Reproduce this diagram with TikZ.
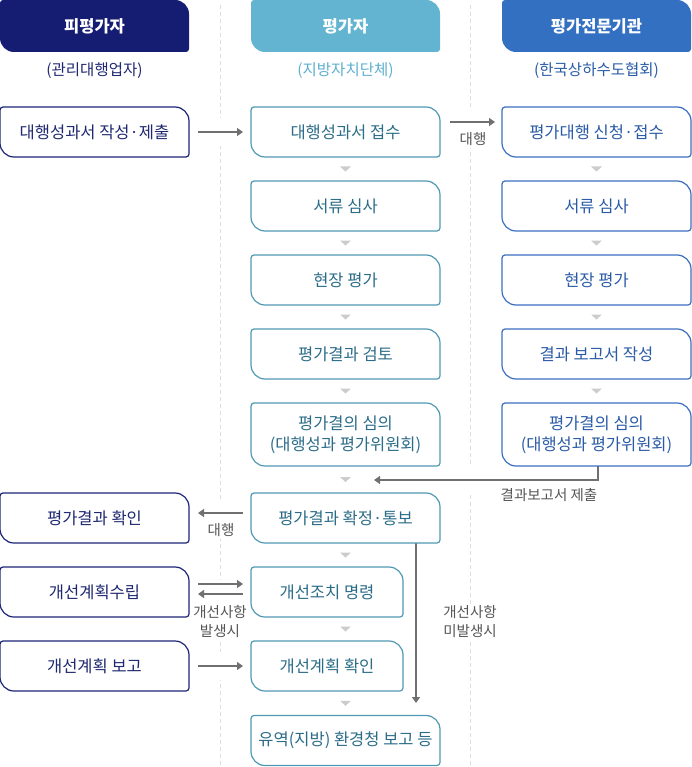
\documentclass[tikz,border=0pt]{standalone}
\usepackage{fontspec}
\setmainfont{Noto Sans CJK KR}
\usetikzlibrary{arrows.meta,calc,backgrounds}
\definecolor{navyfill}{HTML}{151D72}
\definecolor{skyfill}{HTML}{62B4D1}
\definecolor{bluefill}{HTML}{3470C2}
\definecolor{navyline}{HTML}{1C2478}
\definecolor{skyline}{HTML}{4F98B3}
\definecolor{blueline}{HTML}{3B6EC0}
\definecolor{navytext}{HTML}{1F2870}
\definecolor{skytext}{HTML}{2B6C88}
\definecolor{bluetext}{HTML}{2A5BA6}
\definecolor{skysub}{HTML}{5DAFCF}
\definecolor{arrowgray}{HTML}{707070}
\definecolor{labelgray}{HTML}{555555}
\definecolor{trigray}{HTML}{CCCCCC}
\definecolor{sepgray}{HTML}{DDDDDD}
\begin{document}
\begin{tikzpicture}[x=1pt,y=-1pt,
	head/.style={minimum width=189pt,minimum height=52pt,inner sep=0pt,outer sep=0pt,text=white,font=\fontsize{16.5}{19}\selectfont\bfseries},
	sub/.style={inner sep=0pt,font=\fontsize{15.5}{18}\selectfont},
	stagebox/.style={minimum width=189pt,minimum height=50pt,inner sep=0pt,outer sep=0pt,align=center,font=\fontsize{16.5}{21}\selectfont},
	lbox/.style={stagebox,text=navytext},
	mbox/.style={stagebox,text=skytext},
	rbox/.style={stagebox,text=bluetext},
	lbl/.style={fill=white,inner sep=2pt,align=center,text=labelgray,font=\fontsize{14.5}{19}\selectfont},
	flowbare/.style={draw=arrowgray,line width=1.3pt,-{Triangle[length=6pt,width=8pt]}},
	flow/.style={flowbare,preaction={draw=white,line width=28pt,-}},
	tri/.style={fill=trigray},
	sep/.style={draw=sepgray,line width=1pt,dash pattern=on 4pt off 3pt}]
	\useasboundingbox (0,0) rectangle (692,767);
	
	\node[head] (hl) at (94.5,26) {피평가자};
	\node[head] (hm) at (345.5,26) {평가자};
	\node[head] (hr) at (596.5,26) {평가전문기관};
	\node[sub,text=navytext] (sl) at (94.5,71) {(관리대행업자)};
	\node[sub,text=skysub] (sm) at (345.5,71) {(지방자치단체)};
	\node[sub,text=bluetext] (sr) at (596.5,71) {(한국상하수도협회)};
	
	\node[lbox] (l1) at (94.5,132) {대행성과서 작성·제출};
	\node[lbox] (l6) at (94.5,518) {평가결과 확인};
	\node[lbox] (l7) at (94.5,592) {개선계획수립};
	\node[lbox] (l8) at (94.5,666) {개선계획 보고};
	
	\node[mbox] (m1) at (345.5,132) {대행성과서 접수};
	\node[mbox] (m2) at (345.5,206) {서류 심사};
	\node[mbox] (m3) at (345.5,280) {현장 평가};
	\node[mbox] (m4) at (345.5,354) {평가결과 검토};
	\node[mbox,minimum height=63pt] (m5) at (345.5,434.5) {평가결의 심의\\(대행성과 평가위원회)};
	\node[mbox] (m6) at (345.5,518) {평가결과 확정·통보};
	\node[mbox,minimum width=152pt] (m7) at (327,592) {개선조치 명령};
	\node[mbox,minimum width=152pt] (m8) at (327,666) {개선계획 확인};
	\node[mbox] (m9) at (345.5,740.5) {유역(지방) 환경청 보고 등};
	
	\node[rbox] (r1) at (596.5,132) {평가대행 신청·접수};
	\node[rbox] (r2) at (596.5,206) {서류 심사};
	\node[rbox] (r3) at (596.5,280) {현장 평가};
	\node[rbox] (r4) at (596.5,354) {결과 보고서 작성};
	\node[rbox,minimum height=63pt] (r5) at (596.5,434.5) {평가결의 심의\\(대행성과 평가위원회)};
	
	\coordinate (axm) at (345.5,0);
	\coordinate (axr) at (596.5,0);
	\coordinate (back) at (374,480);
	\coordinate (skip) at (416,703);
	
	\begin{scope}[on background layer,y=1pt]
	\foreach \n/\c in {hl/navyfill,hm/skyfill,hr/bluefill}
		\fill[\c] ([xshift=3pt]\n.north west) -- ([xshift=-14pt]\n.north east) arc[start angle=90,end angle=0,radius=14]
			-- ([yshift=3pt]\n.south east) arc[start angle=0,end angle=-90,radius=3]
			-- ([xshift=14pt]\n.south west) arc[start angle=270,end angle=180,radius=14]
			-- ([yshift=-3pt]\n.north west) arc[start angle=180,end angle=90,radius=3] -- cycle;
	\end{scope}
	
	\draw[sep] (220,5) -- (220,767);
	\draw[sep] (470,5) -- (470,767);
	
	\draw[flow,shorten <=9pt,shorten >=8pt] (l1) -- (m1);
	\draw[flow,shorten <=10pt,shorten >=7pt] ([yshift=10pt]m1.east) -- ([yshift=10pt]r1.west);
	\draw[flow] (r5.south -| 598,0) |- (back);
	\draw[flow,shorten <=8pt,shorten >=9pt] ([yshift=5pt]m6.west) -- ([yshift=5pt]l6.east);
	\draw[flow,shorten <=8pt,shorten >=9pt] ([yshift=-2pt]m7.west) -- ([yshift=-2pt]l7.east);
	\draw[flowbare,shorten <=9pt,shorten >=8pt] ([yshift=8pt]l7.east) -- ([yshift=8pt]m7.west);
	\draw[flow,shorten <=9pt,shorten >=8pt] (l8) -- (m8);
	\draw[flow] (skip |- m6.south) -- (skip);
	
	\node[lbl] (t1) at (473,139) {대행};
	\node[lbl] (t2) at (549,495) {결과보고서 제출};
	\node[lbl] (t3) at (221,530) {대행};
	\node[lbl] (t4) at (220,622) {개선사항\\발생시};
	\node[lbl] (t5) at (470,622) {개선사항\\미발생시};
	
	\begin{scope}[y=1pt]
	\foreach \n/\c in {l1/navyline,l6/navyline,l7/navyline,l8/navyline,
		m1/skyline,m2/skyline,m3/skyline,m4/skyline,m5/skyline,m6/skyline,m7/skyline,m8/skyline,m9/skyline,
		r1/blueline,r2/blueline,r3/blueline,r4/blueline,r5/blueline}
		\draw[\c,line width=1.2pt] ([xshift=3pt]\n.north west) -- ([xshift=-14pt]\n.north east) arc[start angle=90,end angle=0,radius=14]
			-- ([yshift=3pt]\n.south east) arc[start angle=0,end angle=-90,radius=3]
			-- ([xshift=14pt]\n.south west) arc[start angle=270,end angle=180,radius=14]
			-- ([yshift=-3pt]\n.north west) arc[start angle=180,end angle=90,radius=3] -- cycle;
	\end{scope}
	
	\foreach \a/\b in {m1/m2,m2/m3,m3/m4,m4/m5,m5/m6,m6/m7,m7/m8,m8/m9}
		\fill[tri] ($(axm |- \a.south)!.5!(axm |- \b.north)$) ++(-5.5,-2.5) -- ++(11,0) -- ++(-5.5,5) -- cycle;
	\foreach \a/\b in {r1/r2,r2/r3,r3/r4,r4/r5}
		\fill[tri] ($(axr |- \a.south)!.5!(axr |- \b.north)$) ++(-5.5,-2.5) -- ++(11,0) -- ++(-5.5,5) -- cycle;
\end{tikzpicture}
\end{document}
